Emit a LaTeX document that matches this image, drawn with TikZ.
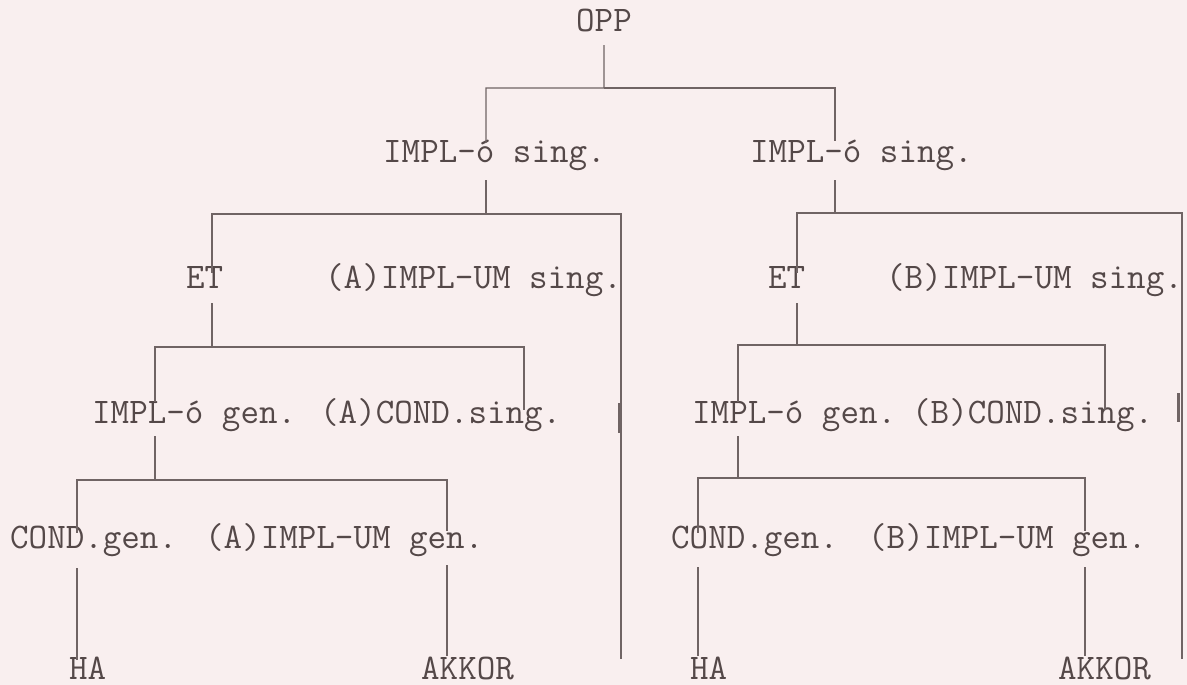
\documentclass[tikz,border=0pt]{standalone}
\usepackage{fontspec}
\definecolor{bg}{RGB}{249,239,239}
\definecolor{ink}{RGB}{84,72,72}
\definecolor{wirec}{RGB}{112,100,100}
\begin{document}
\begin{tikzpicture}[x=1pt,y=-1pt,
  lab/.style={inner sep=0pt, anchor=base west, text height=17pt, text depth=5pt,
              font=\ttfamily\fontsize{36}{40}\selectfont, text=ink},
  leaf/.style={lab, text depth=0pt},
  wire/.style={draw=wirec, line width=1.3pt}]
\fill[bg] (0,0) rectangle (1187,685);
\useasboundingbox (0,0) rectangle (1187,685);
% nodes
\node[lab] (opp) at (576,32) {OPP};
\node[lab] (s1) at (383,162) {IMPL-ó sing.};
\node[lab] (s2) at (750,162) {IMPL-ó sing.};
\node[lab] (et1) at (186,288) {ET};
\node[lab] (um1) at (325,288) {(A)IMPL-UM sing.};
\node[lab] (et2) at (768,288) {ET};
\node[lab] (um2) at (886,288) {(B)IMPL-UM sing.};
\node[lab] (g1) at (92,423) {IMPL-ó gen.};
\node[lab] (c1) at (320,423) {(A)COND.sing.};
\node[lab] (g2) at (692,423) {IMPL-ó gen.};
\node[lab] (c2) at (912,423) {(B)COND.sing.};
\node[lab] (cg1) at (10,548) {COND.gen.};
\node[lab] (ug1) at (205,548) {(A)IMPL-UM gen.};
\node[lab] (cg2) at (671,548) {COND.gen.};
\node[lab] (ug2) at (868,548) {(B)IMPL-UM gen.};
\node[leaf] (ha1) at (69,679) {HA};
\node[leaf] (ak1) at (421,679) {AKKOR};
\node[leaf] (ha2) at (690,679) {HA};
\node[leaf] (ak2) at (1058,679) {AKKOR};
\coordinate (e1) at (621,659);
\coordinate (e2) at (1182,659);
% connectors
\draw[wire] ([yshift=-8pt]opp.south) -- (604,88) -| ([xshift=103pt,yshift=2pt]s1.north west);
\draw[wire] (604,88) -| ([xshift=85pt,yshift=4pt]s2.north west);
\draw[wire] ([xshift=103pt,yshift=-13pt]s1.south west) -- (486,214) -| ([xshift=26pt,yshift=-2pt]et1.north west);
\draw[wire] (486,214) -| (e1);
\draw[wire] ([xshift=85pt,yshift=-13pt]s2.south west) -- (835,213) -| ([xshift=29pt,yshift=-2pt]et2.north west);
\draw[wire] (835,213) -| (e2);
\draw[wire] ([xshift=26pt,yshift=-10pt]et1.south west) -- (212,347) -| ([xshift=63pt,yshift=4pt]g1.north west);
\draw[wire] (212,347) -| ([xshift=204pt,yshift=-4pt]c1.north west);
\draw[wire] ([xshift=29pt,yshift=-10pt]et2.south west) -- (797,345) -| ([xshift=46pt,yshift=4pt]g2.north west);
\draw[wire] (797,345) -| ([xshift=193pt,yshift=-4pt]c2.north west);
\draw[wire] ([xshift=63pt,yshift=-8pt]g1.south west) -- (155,480) -| ([xshift=67pt,yshift=-2pt]cg1.north west);
\draw[wire] (155,480) -| ([xshift=242pt]ug1.north west);
\draw[wire] ([xshift=46pt,yshift=-8pt]g2.south west) -- (738,478) -| ([xshift=27pt,yshift=-2pt]cg2.north west);
\draw[wire] (738,478) -| ([xshift=217pt]ug2.north west);
\draw[wire] ([xshift=67pt,yshift=-15pt]cg1.south west) -- ([xshift=8pt,yshift=2pt]ha1.north west);
\draw[wire] ([xshift=242pt,yshift=-12pt]ug1.south west) -- ([xshift=26pt,yshift=6pt]ak1.north west);
\draw[wire] ([xshift=27pt,yshift=-14pt]cg2.south west) -- ([xshift=8pt,yshift=6pt]ha2.north west);
\draw[wire] ([xshift=217pt,yshift=-14pt]ug2.south west) -- ([xshift=27pt,yshift=6pt]ak2.north west);
\draw[wire, line width=2pt] (619,403) -- (619,433);
\draw[wire, line width=3pt] (1178,393) -- (1178,422);
\end{tikzpicture}
\end{document}
